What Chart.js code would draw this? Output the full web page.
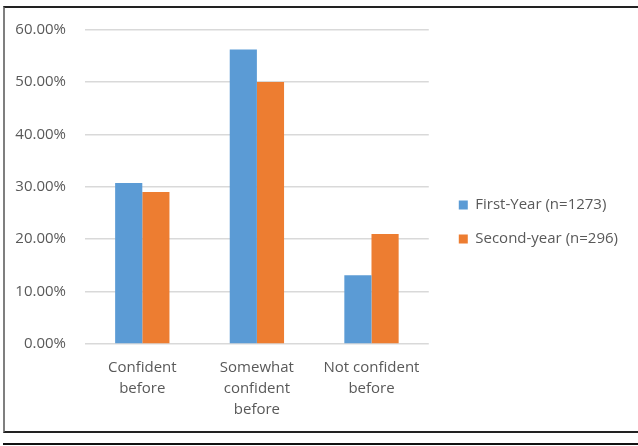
<!DOCTYPE html>
<html>
<head>
<meta charset="utf-8">
<script src="https://cdn.jsdelivr.net/npm/chart.js@4"></script>
<style>
  html, body { margin: 0; padding: 0; background: #fff; }
  #wrap { position: relative; width: 638px; height: 446px; overflow: hidden; }
  #frame {
    position: absolute; left: 3px; top: 6px; width: 660px; height: 423px;
    border-left: 2px solid #7f7f7f; border-top: 2px solid #222; border-bottom: 2px solid #222;
  }
  #rule { position: absolute; left: 3px; top: 443px; width: 660px; height: 2px; background: #111; }
  #chart { position: absolute; left: 0; top: 0; }
</style>
</head>
<body>
<div id="wrap">
  <div id="frame"></div>
  <div id="rule"></div>
  <canvas id="chart" width="638" height="446"></canvas>
</div>
<script>
const categories = [["Confident", "before"], ["Somewhat", "confident", "before"], ["Not confident", "before"]];
const firstYear = [30.7, 56.2, 13.1];
const secondYear = [29.0, 50.0, 21.0];
const seriesNames = ["First-Year (n=1273)", "Second-year (n=296)"];
const yTicks = [0, 10, 20, 30, 40, 50, 60];

const textColor = "#595959";
const font = { family: "'Open Sans', sans-serif", size: 15, lineHeight: 1.4 };

const ctx = document.getElementById("chart").getContext("2d");
const chart = new Chart(ctx, {
  type: "bar",
  data: {
    labels: categories,
    datasets: [
      { label: seriesNames[0], data: firstYear, backgroundColor: "#5b9bd5", borderWidth: 0 },
      { label: seriesNames[1], data: secondYear, backgroundColor: "#ed7d31", borderWidth: 0 }
    ]
  },
  options: {
    responsive: false,
    animation: false,
    categoryPercentage: 0.474,
    barPercentage: 1,
    layout: { padding: { top: 22, left: 10, right: 10, bottom: 24 } },
    plugins: {
      legend: {
        position: "right",
        maxWidth: 190,
        labels: { boxWidth: 9, boxHeight: 9, padding: 19, color: textColor, font: font }
      },
      tooltip: { enabled: false }
    },
    scales: {
      x: {
        grid: { display: false },
        border: { display: false },
        ticks: { color: textColor, font: font, padding: 5, maxRotation: 0, autoSkip: false },
        afterFit: (s) => { s.height = 78; }
      },
      y: {
        min: 0, max: 60,
        afterBuildTicks: (s) => { s.ticks = yTicks.map(v => ({ value: v })); },
        grid: { color: "#d9d9d9", lineWidth: 1.5, drawTicks: false },
        border: { display: false },
        ticks: { color: textColor, font: font, padding: 19, callback: (v) => v.toFixed(2) + "%" },
        afterFit: (s) => { s.width = 75; }
      },
      gap: {
        position: "right",
        display: true,
        grid: { display: false },
        border: { display: false },
        ticks: { display: false },
        afterFit: (s) => { s.width = 11; }
      }
    }
  }
});
</script>
</body>
</html>
